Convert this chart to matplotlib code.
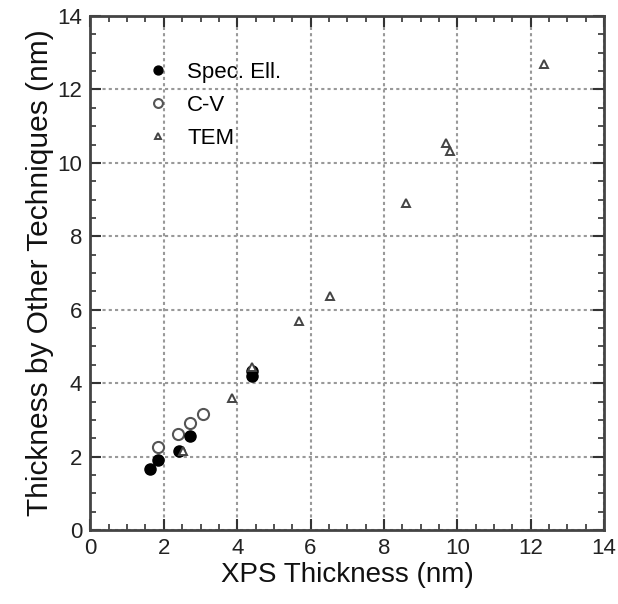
import matplotlib
matplotlib.use("Agg")
import matplotlib.pyplot as plt
from matplotlib.ticker import MultipleLocator

plt.rcParams['font.family'] = ['Liberation Sans', 'DejaVu Sans']

# data (nm)
spec_x = [1.62, 1.85, 2.42, 2.71, 4.40, 4.40]
spec_y = [1.65, 1.91, 2.16, 2.56, 4.20, 4.33]

cv_x = [1.85, 2.39, 2.71, 3.07]
cv_y = [2.27, 2.62, 2.91, 3.16]

tem_x = [2.53, 3.85, 4.40, 5.69, 6.53, 8.60, 9.69, 9.80, 12.37]
tem_y = [2.16, 3.59, 4.45, 5.68, 6.38, 8.90, 10.55, 10.33, 12.69]

ticks = [0, 2, 4, 6, 8, 10, 12, 14]

fig = plt.figure(figsize=(6.18, 6.04), dpi=100)
ax = fig.add_axes([0.1464, 0.1225, 0.8309, 0.851])

ax.plot(spec_x, spec_y, 'o', color='black', markersize=8, label='Spec. Ell.', zorder=4)
ax.plot(cv_x, cv_y, 'o', markerfacecolor='white', markeredgecolor='#555555',
        markeredgewidth=1.5, markersize=8, label='C-V', zorder=3)
ax.plot(tem_x, tem_y, '^', markerfacecolor='white', markeredgecolor='#444444',
        markeredgewidth=1.4, markersize=6, label='TEM', zorder=5)

ax.set_xlim(0, 14)
ax.set_ylim(0, 14)
ax.set_xticks(ticks)
ax.set_yticks(ticks)
ax.xaxis.set_minor_locator(MultipleLocator(0.5))
ax.yaxis.set_minor_locator(MultipleLocator(0.5))
ax.tick_params(which='both', direction='in', top=True, right=True,
               color='#333333', labelsize=16, labelcolor='#222222')
ax.tick_params(which='major', length=8, width=1.5, pad=6)
ax.tick_params(which='minor', length=4, width=1.2)

ax.grid(True, which='major', linestyle=(0, (1.5, 1.5)), color='#999999', linewidth=1.5)

for s in ax.spines.values():
    s.set_linewidth(2)
    s.set_color('#444444')

ax.set_xlabel('XPS Thickness (nm)', fontsize=20, color='#111111', labelpad=2)
ax.set_ylabel('Thickness by Other Techniques (nm)', fontsize=21.5, color='#111111', labelpad=2)

leg = ax.legend(loc='upper left', bbox_to_anchor=(0.05, 0.95), frameon=False,
                fontsize=16, handletextpad=0.3, labelspacing=0.55, markerscale=0.8)

fig.savefig('out.png', dpi=100)
